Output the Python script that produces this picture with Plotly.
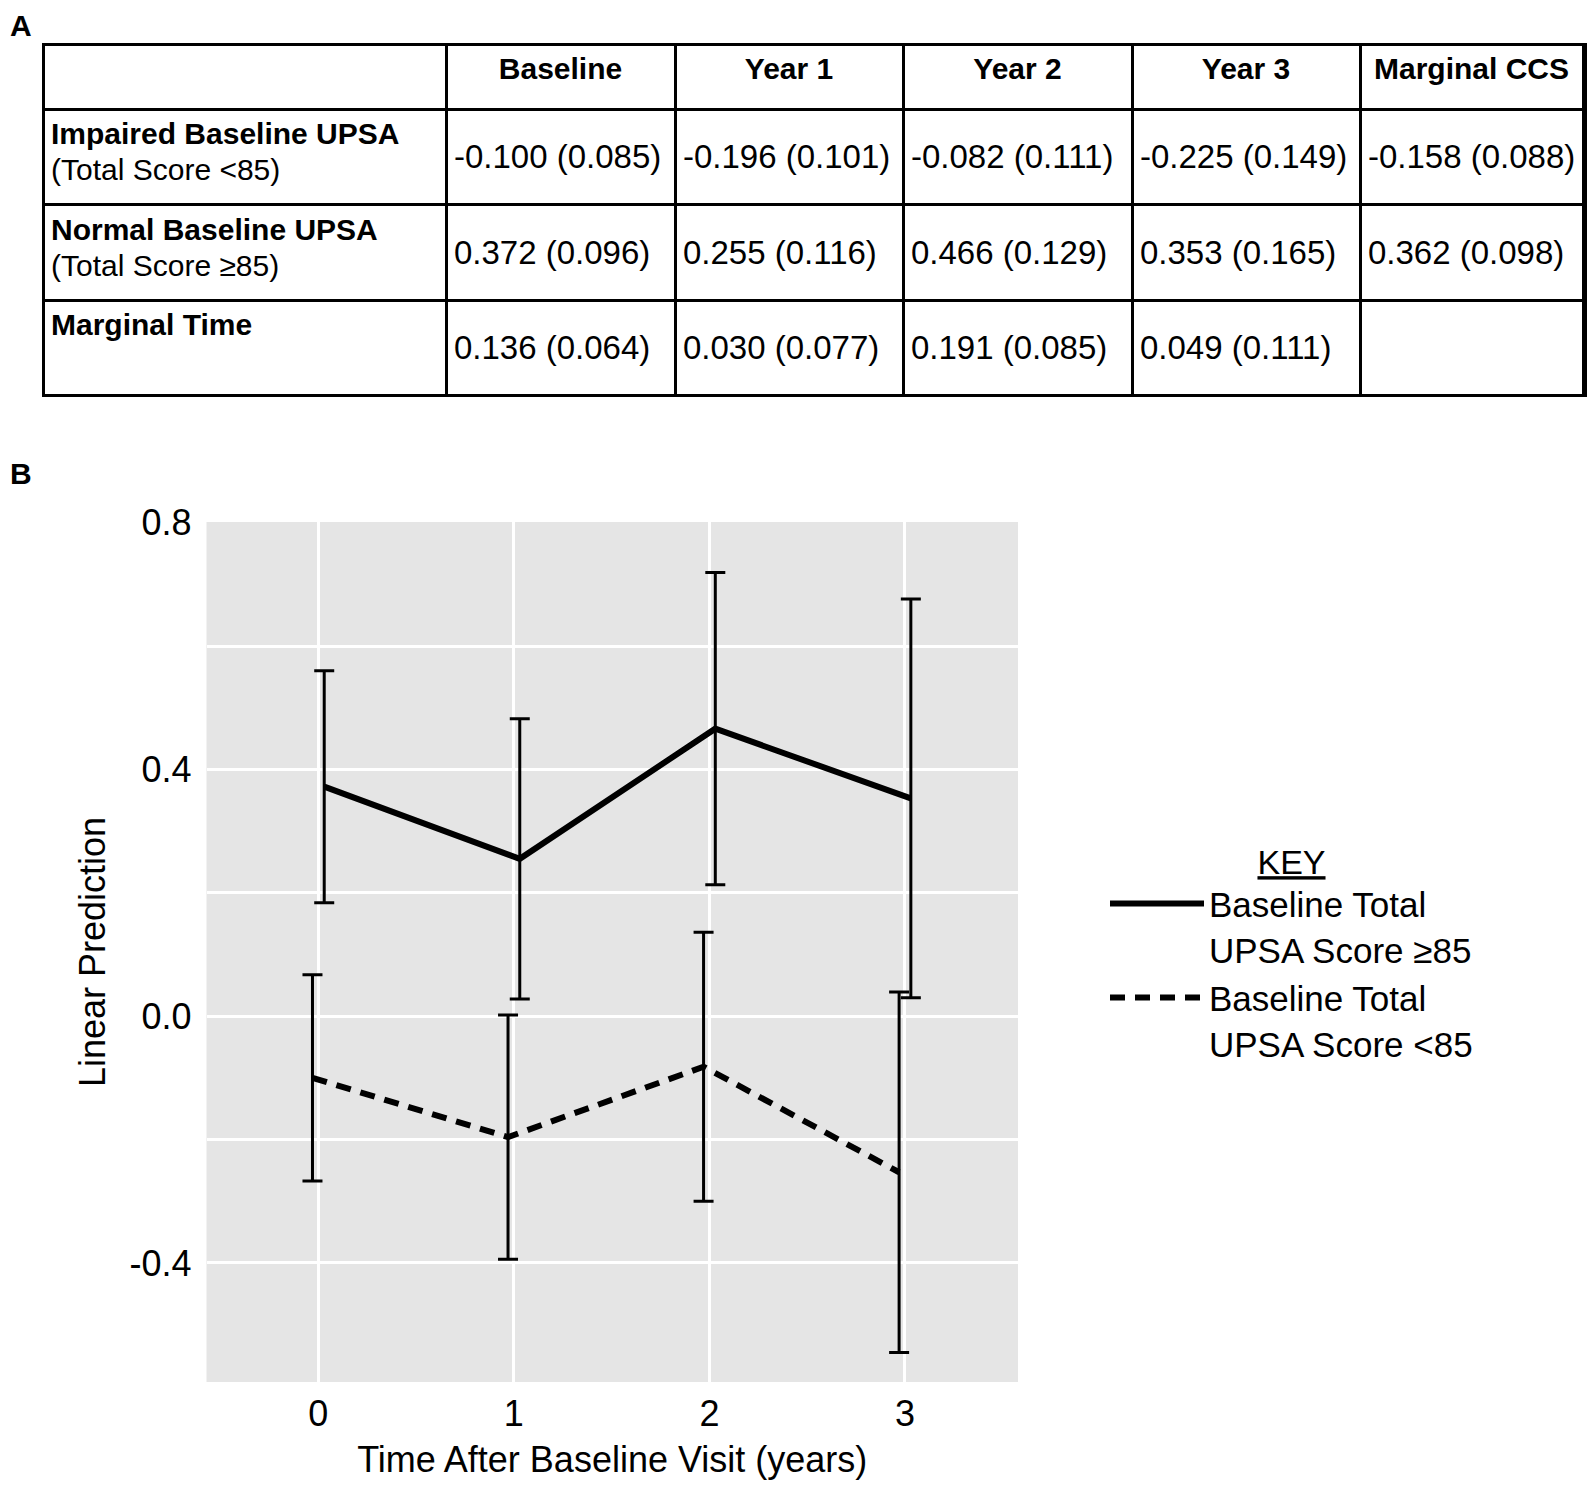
import plotly.graph_objects as go

# ---- panel A: table of estimates (SE) ----
col_headers = ['', 'Baseline', 'Year 1', 'Year 2', 'Year 3', 'Marginal CCS']
row_labels = ['<b>Impaired Baseline UPSA</b><br>(Total Score &lt;85)',
              '<b>Normal Baseline UPSA</b><br>(Total Score ≥85)',
              '<b>Marginal Time</b>']
baseline_col = ['-0.100 (0.085)', '0.372 (0.096)', '0.136 (0.064)']
year1_col = ['-0.196 (0.101)', '0.255 (0.116)', '0.030 (0.077)']
year2_col = ['-0.082 (0.111)', '0.466 (0.129)', '0.191 (0.085)']
year3_col = ['-0.225 (0.149)', '0.353 (0.165)', '0.049 (0.111)']
marginal_ccs_col = ['-0.158 (0.088)', '0.362 (0.098)', '']

# ---- panel B: linear prediction with 95% CI ----
years = [0, 1, 2, 3]
normal_pred = [0.372, 0.255, 0.466, 0.353]
normal_upper = [0.560, 0.482, 0.719, 0.676]
normal_lower = [0.184, 0.028, 0.213, 0.030]
impaired_pred = [-0.100, -0.196, -0.082, -0.253]
impaired_upper = [0.067, 0.002, 0.136, 0.039]
impaired_lower = [-0.267, -0.394, -0.300, -0.545]

y_tick_vals = [-0.4, 0.0, 0.4, 0.8]
y_tick_text = ['-0.4', '0.0', '0.4', '0.8']
y_minor_vals = [-0.2, 0.2, 0.6]

# page body has an 8px margin, so the figure is kept that much smaller than the window
W, H = 1579, 1472
FONT = 'Liberation Sans, Arial, sans-serif'
DODGE = 0.03
SPAN30 = '<span style="font-size:30px">'


def centred(v):
    # empty first line (small base font) pushes the value to mid-cell
    return '\u00a0<br><span style="font-size:33px">%s</span>' % v if v else ''


def label(v):
    # keep an explicit <br> so the table never re-wraps the markup
    if '<br>' not in v:
        v = v + '<br>\u00a0'
    return SPAN30 + v.replace('<br>', '</span><br>' + SPAN30) + '</span>'


fig = go.Figure()

value_cols = [baseline_col, year1_col, year2_col, year3_col, marginal_ccs_col]
# a 2px spacer column on the right: its left edge gives the outer right border
fig.add_trace(go.Table(
    domain={'x': [35 / W, 1577 / W], 'y': [1 - 400 / H, 1 - 36 / H]},
    columnwidth=[403, 229, 228, 229, 228, 223, 2],
    header={'values': ['<b>%s</b>' % h if h else '' for h in col_headers] + [''],
            'align': 'center',
            'height': 65,
            'fill': {'color': 'white'},
            'line': {'color': 'black', 'width': 3},
            'font': {'family': FONT, 'size': 30, 'color': 'black'}},
    cells={'values': [[label(r) for r in row_labels]]
                     + [[centred(v) for v in c] for c in value_cols]
                     + [['', '', '']],
           'align': 'left',
           'height': 95.6,
           'fill': {'color': 'white'},
           'line': {'color': 'black', 'width': 3},
           'font': {'family': FONT, 'size': [28, 23, 23, 23, 23, 23, 23], 'color': 'black'}}
))

fig.add_trace(go.Scatter(
    x=[t + DODGE for t in years], y=normal_pred,
    mode='lines',
    name='Baseline Total<br>UPSA Score ≥85',
    line={'color': 'black', 'width': 6},
    error_y={'type': 'data', 'symmetric': False,
             'array': [u - m for u, m in zip(normal_upper, normal_pred)],
             'arrayminus': [m - l for m, l in zip(normal_pred, normal_lower)],
             'color': 'black', 'thickness': 3, 'width': 10}
))

fig.add_trace(go.Scatter(
    x=[t - DODGE for t in years], y=impaired_pred,
    mode='lines',
    name='Baseline Total<br>UPSA Score &lt;85',
    line={'color': 'black', 'width': 6, 'dash': '15px,10px'},
    error_y={'type': 'data', 'symmetric': False,
             'array': [u - m for u, m in zip(impaired_upper, impaired_pred)],
             'arrayminus': [m - l for m, l in zip(impaired_pred, impaired_lower)],
             'color': 'black', 'thickness': 3, 'width': 10}
))

fig.update_layout(
    width=W, height=H,
    autosize=False,
    margin={'l': 0, 'r': 0, 't': 0, 'b': 0},
    paper_bgcolor='white',
    plot_bgcolor='#E5E5E5',
    font={'family': FONT, 'color': 'black'},
    legend={
        'x': 1097 / W, 'y': 1 - 822 / H,
        'xanchor': 'left', 'yanchor': 'top',
        'valign': 'top',
        'itemwidth': 94,
        'bgcolor': 'rgba(0,0,0,0)',
        'font': {'size': 35, 'color': 'black'},
        'title': {'text': '<span style="text-decoration:underline">KEY</span>',
                  'side': 'top center',
                  'font': {'size': 34, 'color': 'black'}},
    },
    annotations=[
        {'text': '<b>A</b>', 'x': 0, 'y': 1 - 17.5 / H, 'xref': 'paper', 'yref': 'paper',
         'xanchor': 'left', 'yanchor': 'middle',
         'showarrow': False, 'font': {'size': 30}},
        {'text': '<b>B</b>', 'x': 0, 'y': 1 - 465 / H, 'xref': 'paper', 'yref': 'paper',
         'xanchor': 'left', 'yanchor': 'middle',
         'showarrow': False, 'font': {'size': 30}},
    ]
)

fig.update_xaxes(
    domain=[198.5 / W, 1010 / W],
    range=[-0.572, 3.578],
    tickvals=years,
    ticktext=[str(t) for t in years],
    showgrid=True, gridcolor='white', gridwidth=3,
    zeroline=False, showline=False, ticks='',
    tickfont={'size': 36},
    ticklabelstandoff=7,
    automargin=False,
    title={'text': 'Time After Baseline Visit (years)', 'font': {'size': 36}, 'standoff': 23}
)

fig.update_yaxes(
    domain=[1 - 1374 / H, 1 - 514 / H],
    range=[-0.593, 0.801],
    tickvals=y_tick_vals,
    ticktext=y_tick_text,
    showgrid=True, gridcolor='white', gridwidth=3,
    minor={'tickvals': y_minor_vals, 'showgrid': True, 'gridcolor': 'white', 'gridwidth': 3},
    zeroline=False, showline=False, ticks='',
    tickfont={'size': 36},
    ticklabelstandoff=14,
    automargin=False,
    title={'text': 'Linear Prediction', 'font': {'size': 36}, 'standoff': 12}
)

fig.write_html("out.html")
